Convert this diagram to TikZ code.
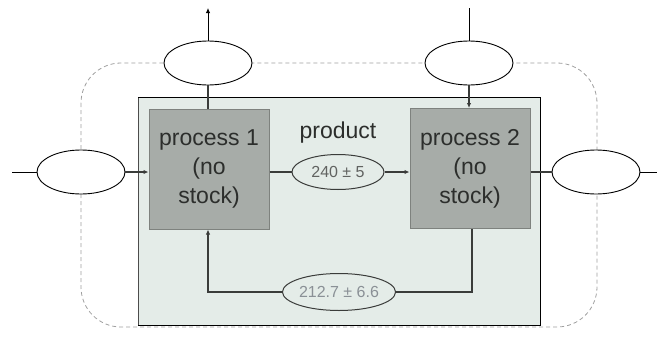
\documentclass[tikz,border=0pt]{standalone}
\usepackage{fontspec}
\setmainfont{Liberation Sans}
\usetikzlibrary{shapes.geometric,arrows.meta}
\definecolor{panelbg}{HTML}{E4ECE8}
\definecolor{procfill}{HTML}{A7ACA8}
\definecolor{procedge}{HTML}{7E827E}
\definecolor{inkdark}{HTML}{3A3C3A}
\definecolor{textdark}{HTML}{2C2E2C}
\definecolor{ovaltext}{HTML}{8A9096}
\definecolor{dashgray}{HTML}{A0A0A0}
\tikzset{
  procbox/.style={rectangle, draw=procedge, line width=1pt, fill=procfill,
    minimum width=120pt, minimum height=120pt, inner sep=0pt, align=center,
    text=textdark, font=\fontsize{23}{29}\selectfont},
  outeroval/.style={ellipse, draw=black, line width=0.9pt, fill=white,
    minimum width=88pt, minimum height=44pt, inner sep=0pt},
  inneroval/.style={ellipse, draw=inkdark, line width=1pt, fill=panelbg,
    minimum width=92pt, minimum height=35pt, inner sep=0pt,
    font=\fontsize{16}{18}\selectfont},
  outerlink/.style={draw=black, line width=0.9pt},
  innerlink/.style={draw=inkdark, line width=1.1pt},
  tip/.style={-{Latex[length=5pt,width=4.5pt]}}
}
\begin{document}
\begin{tikzpicture}[x=1pt,y=-1pt]
  \useasboundingbox (0,0) rectangle (657,338);

  % system boundary
  \draw[dashgray, line width=0.8pt, dash pattern=on 4pt off 3pt, rounded corners=40pt]
    (81,63) rectangle (597,327);

  % embedded panel
  \fill[panelbg] (138,97) rectangle (540,325);
  \draw[black!70, line width=1pt] (138,325) -- (138,97);
  \draw[black, line width=1pt] (138,97) -- (540,97) -- (540,325) -- (138,325);

  % processes
  \node[procbox] (p1) at (209,169) {process 1\\(no\\stock)};
  \node[procbox] (p2) at (470,168.5) {process 2\\(no\\stock)};

  % internal flows
  \node[text=textdark, font=\fontsize{23}{26}\selectfont] (prodlabel) at (338,133) {product};
  \node[inneroval, text=inkdark!80] (prod) at (338,172) {240 ± 5};
  \node[inneroval, text=ovaltext, minimum height=37pt] (back) at (339,292) {212.7 ± 6.6};

  % boundary flows
  \node[outeroval] (topA) at (208,63) {};
  \node[outeroval] (topB) at (469,63) {};
  \node[outeroval] (inL) at (81,172) {};
  \node[outeroval] (outR) at (596,172) {};

  \coordinate (upA) at (208,8);
  \coordinate (upB) at (469,8);
  \coordinate (farL) at (12,172);
  \coordinate (farR) at (657,172);
  \coordinate (turnR) at (472,292);
  \coordinate (turnL) at (208,292);

  \draw[outerlink, tip] (topA.north) -- (upA);
  \draw[innerlink] (topA.south) -- (topA.south |- p1.north);
  \draw[outerlink] (upB) -- (topB.north);
  \draw[innerlink, tip] (topB.south) -- (topB.south |- p2.north);
  \draw[outerlink] (farL) -- (inL.west);
  \draw[innerlink, tip] (inL.east) -- (inL.east -| p1.west);
  \draw[innerlink] (outR.west -| p2.east) -- (outR.west);
  \draw[outerlink] (outR.east) -- (farR);

  \draw[innerlink] (prod.west -| p1.east) -- (prod.west);
  \draw[innerlink, tip] (prod.east) -- (prod.east -| p2.west);

  \draw[innerlink] (turnR |- p2.south) -- (turnR) -- (back.east);
  \draw[innerlink, tip] (back.west) -- (turnL) -- (turnL |- p1.south);
\end{tikzpicture}
\end{document}
